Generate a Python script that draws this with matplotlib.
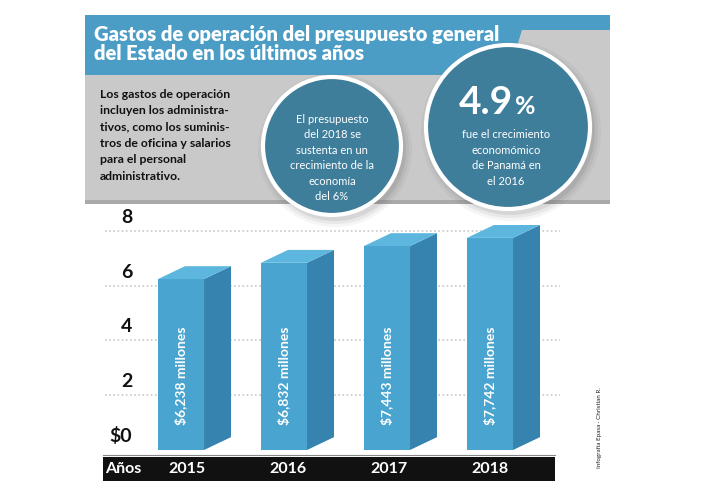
import numpy as np
import matplotlib
matplotlib.use('Agg')
import matplotlib.pyplot as plt
from matplotlib.patches import Polygon, Circle, Rectangle

# data
years = ['2015', '2016', '2017', '2018']
gastos = [6.238, 6.832, 7.443, 7.742]   # miles de millones
labels = ['$6,238 millones', '$6,832 millones', '$7,443 millones', '$7,742 millones']
yticks = [0, 2, 4, 6, 8]
ytick_labels = ['$0', '2', '4', '6', '8']

title = 'Gastos de operación del presupuesto general\ndel Estado en los últimos años'
intro = ('Los gastos de operación\nincluyen los administra-\ntivos, como los suminis-\n'
         'tros de oficina y salarios\npara el personal\nadministrativo.')
circle1_txt = 'El presupuesto\ndel 2018 se\nsustenta en un\ncrecimiento de la\neconomía\ndel 6%'
circle2_txt = 'fue el crecimiento\neconomómico\nde Panamá en\nel 2016'

FONT = ['Lato', 'DejaVu Sans']
BLUE = '#4c9dc6'
CIRC = '#3e7e9b'
FRONT = '#4aa4d0'
SIDE = '#3583ae'
TOP = '#5cb6de'

fig = plt.figure(figsize=(7.2, 5.0), dpi=100)
fig.patch.set_facecolor('white')

# background / decoration layer in pixel coords
bg = fig.add_axes([0, 0, 1, 1])
bg.set_xlim(0, 720)
bg.set_ylim(500, 0)
bg.axis('off')

bg.add_patch(Rectangle((85, 30), 525, 174, facecolor='#c9c9c9', edgecolor='none'))
bg.add_patch(Rectangle((85, 200), 525, 4, facecolor='#a9a9a9', edgecolor='none'))
bg.add_patch(Polygon([(85, 15), (610, 15), (610, 30), (522, 30), (508, 75), (85, 75)],
                     closed=True, facecolor=BLUE, edgecolor='none'))

bg.text(94, 44, title, color='white', fontsize=14.5, fontweight='heavy', family=FONT,
        va='center', ha='left', linespacing=0.98)
bg.text(100, 135, intro, color='#111111', fontsize=8.8, fontweight='bold', family=FONT,
        va='center', ha='left', linespacing=1.6)

# circles with soft shadow
for cx, cy, r in [(332, 146, 69), (508, 127, 82)]:
    for k, a in [(8, 0.06), (5, 0.08), (2, 0.12)]:
        bg.add_patch(Circle((cx + 3, cy + 4), r + k, facecolor='#555555', alpha=a,
                            edgecolor='none'))
    bg.add_patch(Circle((cx, cy), r, facecolor=CIRC, edgecolor='white', linewidth=3))

bg.text(332, 158, circle1_txt, color='white', fontsize=8, family=FONT, ha='center',
        va='center', linespacing=1.5)
bg.text(513, 102, '4.9', color='white', fontsize=28, fontweight='bold', family=FONT,
        ha='right', va='center')
bg.text(515, 106, '%', color='white', fontsize=18, fontweight='bold', family=FONT,
        ha='left', va='center')
bg.text(506, 158, circle2_txt, color='white', fontsize=8, family=FONT, ha='center',
        va='center', linespacing=1.5)

# black band with years
bg.add_patch(Rectangle((103, 457), 452, 24, facecolor='#111111', edgecolor='none'))
bg.plot([103, 555], [455, 455], color='#888888', lw=0.8)
bg.text(123, 469, 'Años', color='white', fontsize=11.5, fontweight='bold', family=FONT,
        ha='center', va='center')

bg.text(600, 428, 'Infografía Epasa · Christian R.', rotation=90, fontsize=4.5,
        family=FONT, ha='center', va='center', color='#222222')

# chart axes
px0, py0 = 100, 450          # pixel of x-left and value 0
ppu = 27.4                   # pixels per unit
ax = fig.add_axes([px0 / 720, (500 - py0) / 500, 500 / 720, 8.6 * ppu / 500])
ax.set_ylim(0, 8.6)
spacing = 103.0
ax.set_xlim((px0 - 181) / spacing, (600 - 181) / spacing)
ax.axis('off')
ax.patch.set_alpha(0)

x = np.arange(len(years))
w = 0.447
dx, dy = 0.262, 0.47

ax.hlines([2, 4, 6, 8], -0.74, 3.68, colors='#c8c8c8', linestyles=(0, (1, 1.5)), lw=1.2,
          zorder=1)

ax.bar(x, gastos, width=w, color=FRONT, edgecolor='none', zorder=3)
for xi, v in zip(x, gastos):
    l, r = xi - w / 2, xi + w / 2
    ax.add_patch(Polygon([(r, 0), (r + dx, dy), (r + dx, v + dy), (r, v)], closed=True,
                         facecolor=SIDE, edgecolor='none', zorder=3))
    ax.add_patch(Polygon([(l, v), (r, v), (r + dx, v + dy), (l + dx, v + dy)], closed=True,
                         facecolor=TOP, edgecolor='none', zorder=3))

for xi, lab in zip(x, labels):
    ax.text(xi, 2.7, lab, rotation=90, color='white', fontsize=10, fontweight='bold',
            family=FONT, ha='center', va='center', zorder=4)

for t, tl in zip(yticks, ytick_labels):
    ax.text((127 - 181) / spacing if t else (121 - 181) / spacing, t + 0.18, tl,
            fontsize=14, fontweight='bold', family=FONT, ha='center', va='bottom',
            color='#111111')

for xi, yr in zip(x, years):
    bg.text(187 + 101 * xi, 469, yr, color='white', fontsize=11.5, fontweight='bold',
            family=FONT, ha='center', va='center')

fig.savefig('out.png', dpi=100, facecolor='white')
